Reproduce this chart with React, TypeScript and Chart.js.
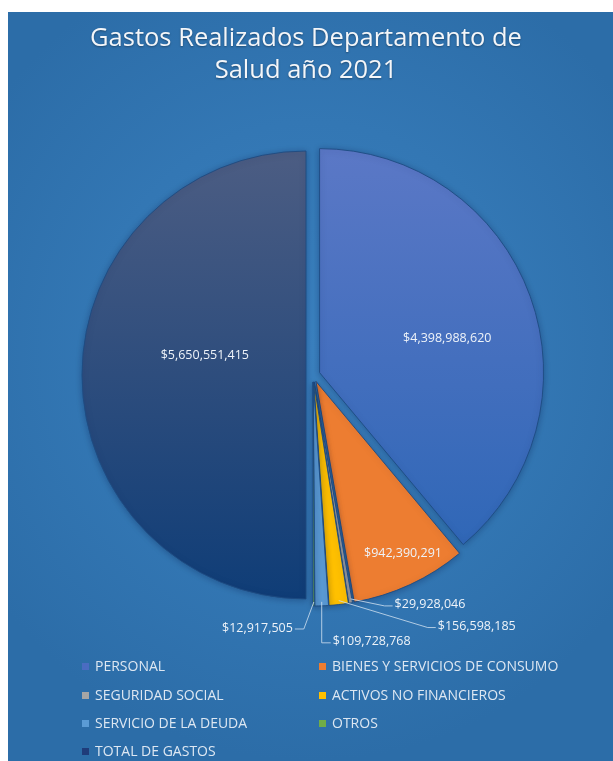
import React, { useEffect, useRef } from "react";
import { Chart, registerables } from "chart.js";

Chart.register(...registerables);

// ---- data ----
const titleLines = ["Gastos Realizados Departamento de", "Salud año 2021"];
const categories = [
  "PERSONAL",
  "BIENES Y SERVICIOS DE CONSUMO",
  "SEGURIDAD SOCIAL",
  "ACTIVOS NO FINANCIEROS",
  "SERVICIO DE LA DEUDA",
  "OTROS",
  "TOTAL DE GASTOS",
];
const amounts = [
  4398988620, 942390291, 29928046, 156598185, 109728768, 12917505, 5650551415,
];
// order of legend entries: two columns, row-major
const legendOrder = [0, 1, 2, 3, 4, 5, 6];

// ---- styles ----
const sliceColors = ["#4472c4", "#ed7d31", "#a5a5a5", "#ffc000", "#5b9bd5", "#70ad47", "#264478"];
const gradientStops: (string[] | null)[] = [
  ["#5b78c6", "#2a65b5"],
  null,
  null,
  null,
  null,
  null,
  ["#4c5d83", "#0f3d77"],
];
const legendMarkerColors = ["#4a6cc2", "#ed7d31", "#a5a5a5", "#ffc000", "#5b9bd5", "#70ad47", "#1f3c7a"];
const explodeDist = [7, 7, 7, 7, 7, 7, 7];
const PIE_RADIUS = 224;
// inside labels: [fraction of radius, angle nudge in degrees]
const insideLabel: ([number, number] | null)[] = [
  [0.59, 5],
  [0.86, -2],
  null,
  null,
  null,
  null,
  [0.46, 11],
];
// outside callouts: [dx, dy from slice outer point, side(+1 right / -1 left), elbow length]
const callouts: ([number, number, number, number] | null)[] = [
  null,
  null,
  [42, 3, 1, 8],
  [97, 23, 1, 8],
  [9, 37, 1, 9],
  [-19, 23, -1, 9],
  null,
];

const fmt = (v: number) => "$" + v.toLocaleString("en-US");

const explodePlugin = {
  id: "explodePie",
  beforeDatasetDraw(chart: any, args: any) {
    const ctx = chart.ctx;
    const meta = args.meta;
    meta.data.forEach((arc: any, i: number) => {
      const p = arc.getProps(["startAngle", "endAngle"], true);
      const mid = (p.startAngle + p.endAngle) / 2;
      const d = explodeDist[i] || 0;
      ctx.save();
      ctx.translate(Math.cos(mid) * d, Math.sin(mid) * d);
      ctx.shadowColor = "rgba(10,30,70,0.3)";
      ctx.shadowBlur = 6;
      ctx.shadowOffsetY = 1;
      arc.draw(ctx);
      ctx.restore();
    });
    return false;
  },
};

const labelPlugin = {
  id: "sliceLabels",
  afterDatasetsDraw(chart: any) {
    const ctx = chart.ctx;
    const meta = chart.getDatasetMeta(0);
    const values = chart.data.datasets[0].data as number[];
    ctx.save();
    ctx.font = "12.5px 'Open Sans', sans-serif";
    ctx.fillStyle = "#eef3f9";
    meta.data.forEach((arc: any, i: number) => {
      const p = arc.getProps(["x", "y", "startAngle", "endAngle", "outerRadius"], true);
      const mid = (p.startAngle + p.endAngle) / 2;
      const d = explodeDist[i] || 0;
      const cx = p.x + Math.cos(mid) * d;
      const cy = p.y + Math.sin(mid) * d;
      const text = fmt(values[i]);
      const il = insideLabel[i];
      if (il) {
        const a = mid + (il[1] * Math.PI) / 180;
        const r = p.outerRadius * il[0];
        ctx.textAlign = "center";
        ctx.textBaseline = "middle";
        ctx.fillText(text, cx + Math.cos(a) * r, cy + Math.sin(a) * r);
      }
      const co = callouts[i];
      if (co) {
        const ox = cx + Math.cos(mid) * p.outerRadius;
        const oy = cy + Math.sin(mid) * p.outerRadius;
        const ax = ox + co[0];
        const ay = oy + co[1];
        const ex = ax - co[2] * co[3];
        ctx.strokeStyle = "rgba(200,218,236,0.85)";
        ctx.lineWidth = 1;
        ctx.beginPath();
        ctx.moveTo(ox, oy - 4);
        ctx.lineTo(ex, ay);
        ctx.lineTo(ax, ay);
        ctx.stroke();
        ctx.textBaseline = "middle";
        ctx.textAlign = co[2] > 0 ? "left" : "right";
        ctx.fillText(text, ax + co[2] * 2, ay - 1);
      }
    });
    ctx.restore();
  },
};

function makeBg(i: number) {
  return (c: any) => {
    const stops = gradientStops[i];
    const chart = c.chart;
    const area = chart.chartArea;
    if (!stops || !area) return sliceColors[i];
    const cy = (area.top + area.bottom) / 2;
    const g = chart.ctx.createLinearGradient(0, cy - PIE_RADIUS, 0, cy + PIE_RADIUS);
    g.addColorStop(0, stops[0]);
    g.addColorStop(1, stops[1]);
    return g;
  };
}

export default function App() {
  const ref = useRef<HTMLCanvasElement | null>(null);

  useEffect(() => {
    document.body.style.margin = "0";
    document.documentElement.style.overflow = "hidden";
    const canvas = ref.current;
    if (!canvas) return;
    const chart = new Chart(canvas, {
      type: "pie",
      data: {
        labels: categories,
        datasets: [
          {
            data: amounts,
            backgroundColor: (c: any) => makeBg(c.dataIndex)(c),
            borderColor: "rgba(30,75,130,0.9)",
            borderWidth: 1,
            radius: PIE_RADIUS,
          } as any,
        ],
      },
      options: {
        responsive: false,
        animation: false,
        devicePixelRatio: 1,
        layout: { padding: { top: 130, bottom: 153, left: 5, right: 0 } },
        plugins: {
          legend: { display: false },
          tooltip: { enabled: false },
          title: { display: false },
        },
      },
      plugins: [explodePlugin, labelPlugin],
    });
    return () => chart.destroy();
  }, []);

  const rowsY = [654, 683, 711, 739];
  const colX = [[74, 87], [311, 324]];

  return (
    <div
      style={{
        position: "absolute",
        left: 8,
        top: 12,
        width: 605,
        height: 749,
        overflow: "hidden",
        background:
          "radial-gradient(ellipse 65% 55% at 50% 45%, #3a80bf 0%, #3377b4 55%, #2c6da8 100%)",
        fontFamily: "'Open Sans', sans-serif",
      }}
    >
      <canvas ref={ref} width={605} height={749} style={{ position: "absolute", left: 0, top: 0 }} />
      <div
        style={{
          position: "absolute",
          left: 0,
          top: 8,
          width: 596,
          textAlign: "center",
          color: "#f4f6f9",
          fontSize: 25.5,
          lineHeight: "32px",
          textShadow: "0 1px 2px rgba(0,0,0,0.35)",
        }}
      >
        {titleLines.map((t, i) => (
          <div key={i}>{t}</div>
        ))}
      </div>
      {legendOrder.map((idx, k) => {
        const row = Math.floor(k / 2);
        const col = k % 2;
        return (
          <div key={idx}>
            <div
              style={{
                position: "absolute",
                left: colX[col][0],
                top: rowsY[row] - 3.5,
                width: 7,
                height: 7,
                background: legendMarkerColors[idx],
              }}
            />
            <div
              style={{
                position: "absolute",
                left: colX[col][1],
                top: rowsY[row] - 10,
                height: 20,
                lineHeight: "20px",
                fontSize: 14,
                color: "#dde7f2",
                whiteSpace: "nowrap",
              }}
            >
              {categories[idx]}
            </div>
          </div>
        );
      })}
    </div>
  );
}
